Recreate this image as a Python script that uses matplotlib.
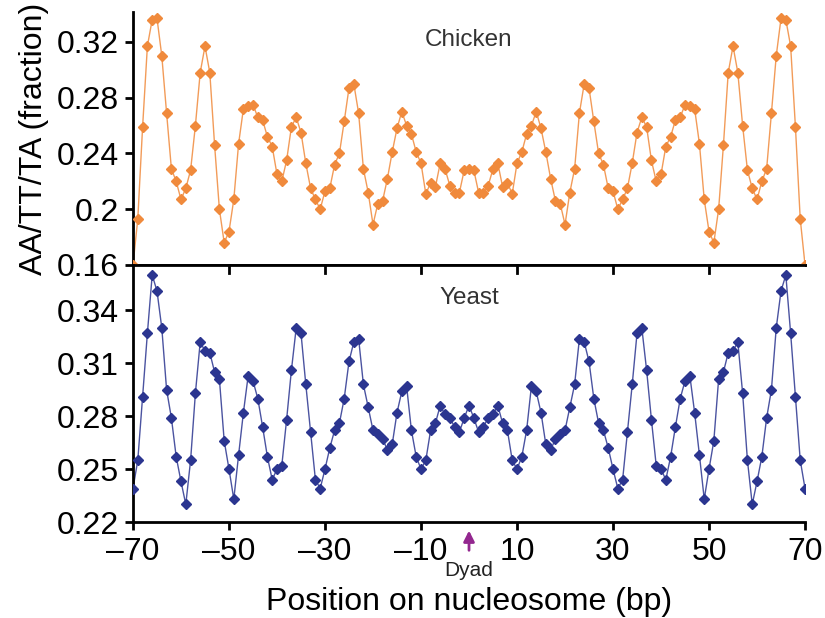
import numpy as np
import matplotlib
matplotlib.use("Agg")
import matplotlib.pyplot as plt

plt.rcParams["font.family"] = ["Liberation Sans", "DejaVu Sans"]

# position on nucleosome, -70..70 bp
positions = list(range(-70, 71))

chicken = [
    0.160, 0.193, 0.259, 0.317, 0.336, 0.337, 0.310, 0.269, 0.229, 0.220,
    0.207, 0.215, 0.228, 0.260, 0.298, 0.317, 0.298, 0.246, 0.200, 0.176,
    0.184, 0.207, 0.247, 0.272, 0.274, 0.275, 0.266, 0.264, 0.252, 0.245,
    0.225, 0.220, 0.235, 0.259, 0.266, 0.255, 0.233, 0.215, 0.207, 0.200,
    0.213, 0.215, 0.232, 0.240, 0.263, 0.287, 0.290, 0.269, 0.229, 0.212,
    0.189, 0.204, 0.206, 0.222, 0.241, 0.258, 0.270, 0.260, 0.254, 0.241,
    0.233, 0.211, 0.219, 0.216, 0.233, 0.229, 0.217, 0.212, 0.212, 0.228,
    0.229,
    0.228, 0.212, 0.212, 0.217, 0.229, 0.233, 0.216, 0.219, 0.211, 0.233,
    0.241, 0.254, 0.260, 0.270, 0.258, 0.241, 0.222, 0.206, 0.204, 0.189,
    0.212, 0.229, 0.269, 0.290, 0.287, 0.263, 0.240, 0.232, 0.215, 0.213,
    0.200, 0.207, 0.215, 0.233, 0.255, 0.266, 0.259, 0.235, 0.220, 0.225,
    0.245, 0.252, 0.264, 0.266, 0.275, 0.274, 0.272, 0.247, 0.207, 0.184,
    0.176, 0.200, 0.246, 0.298, 0.317, 0.298, 0.260, 0.228, 0.215, 0.207,
    0.220, 0.229, 0.269, 0.310, 0.337, 0.336, 0.317, 0.259, 0.193, 0.160,
]

yeast = [
    0.239, 0.255, 0.291, 0.327, 0.360, 0.351, 0.330, 0.295, 0.279, 0.257,
    0.243, 0.230, 0.255, 0.293, 0.322, 0.317, 0.316, 0.305, 0.301, 0.266,
    0.250, 0.233, 0.258, 0.282, 0.303, 0.300, 0.290, 0.274, 0.257, 0.244,
    0.250, 0.252, 0.278, 0.306, 0.330, 0.327, 0.298, 0.271, 0.244, 0.239,
    0.250, 0.262, 0.272, 0.276, 0.290, 0.311, 0.322, 0.324, 0.298, 0.285,
    0.272, 0.270, 0.267, 0.261, 0.264, 0.282, 0.294, 0.297, 0.272, 0.257,
    0.250, 0.255, 0.272, 0.276, 0.286, 0.281, 0.279, 0.274, 0.271, 0.279,
    0.286,
    0.279, 0.271, 0.274, 0.279, 0.281, 0.286, 0.276, 0.272, 0.255, 0.250,
    0.257, 0.272, 0.297, 0.294, 0.282, 0.264, 0.261, 0.267, 0.270, 0.272,
    0.285, 0.298, 0.324, 0.322, 0.311, 0.290, 0.276, 0.272, 0.262, 0.250,
    0.239, 0.244, 0.271, 0.298, 0.327, 0.330, 0.306, 0.278, 0.252, 0.250,
    0.244, 0.257, 0.274, 0.290, 0.300, 0.303, 0.282, 0.258, 0.233, 0.250,
    0.266, 0.301, 0.305, 0.316, 0.317, 0.322, 0.293, 0.255, 0.230, 0.243,
    0.257, 0.279, 0.295, 0.330, 0.351, 0.360, 0.327, 0.291, 0.255, 0.239,
]

chicken_ticks = [0.16, 0.2, 0.24, 0.28, 0.32]
chicken_ticklabels = ["0.16", "0.2", "0.24", "0.28", "0.32"]
yeast_ticks = [0.22, 0.25, 0.28, 0.31, 0.34]
x_ticks = [-70, -50, -30, -10, 10, 30, 50, 70]

orange = "#f08a3c"
blue = "#2b3590"
purple = "#93278f"

fig = plt.figure(figsize=(8.25, 6.18), dpi=100)
ax_top = fig.add_axes([0.1612, 0.5712, 0.8146, 0.4094])
ax_bot = fig.add_axes([0.1612, 0.1553, 0.8146, 0.4159])

for ax, y, c in [(ax_top, chicken, orange), (ax_bot, yeast, blue)]:
    ax.plot(positions, y, color=c, lw=1.0, alpha=0.85, zorder=2)
    ax.plot(positions, y, ls="none", marker="D", ms=5.5, color=c,
            mec=c, zorder=3)
    ax.set_xlim(-70, 70)
    ax.spines["right"].set_visible(False)
    for s in ax.spines.values():
        s.set_linewidth(2)
    ax.tick_params(axis="y", direction="out", length=6, width=2,
                   labelsize=23, pad=4)

ax_top.set_ylim(0.16, 0.3415)
ax_top.set_yticks(chicken_ticks)
ax_top.set_yticklabels(chicken_ticklabels)
ax_top.spines["top"].set_visible(False)
ax_top.set_xticks(x_ticks)
ax_top.tick_params(axis="x", bottom=False, labelbottom=False)
ax_top.text(0, 0.3214, "Chicken", ha="center", va="center", fontsize=17.5,
            color="#333333")
ax_top.set_ylabel("AA/TT/TA (fraction)", fontsize=23, labelpad=6)

ax_bot.set_ylim(0.22, 0.3657)
ax_bot.set_yticks(yeast_ticks)
ax_bot.set_xticks(x_ticks)
ax_bot.set_xticklabels([str(t).replace("-", "\u2013") for t in x_ticks])
ax_bot.tick_params(axis="x", direction="out", length=6, width=2,
                   labelsize=23, pad=5)
ax_bot.text(0, 0.347, "Yeast", ha="center", va="center", fontsize=17.5,
            color="#333333")
ax_bot.set_xlabel("Position on nucleosome (bp)", fontsize=23, labelpad=14)

# inward ticks along the shared border
for t in x_ticks[1:-1]:
    ax_bot.plot([t, t], [0.3657, 0.3612], color="black", lw=2,
                clip_on=False, zorder=4)

# dyad marker
xt = ax_bot.get_xaxis_transform()
ax_bot.annotate("", xy=(0, -0.033), xytext=(0, -0.11),
                xycoords=xt, textcoords=xt,
                arrowprops=dict(arrowstyle="-|>", color=purple, lw=2,
                                mutation_scale=16, shrinkA=0, shrinkB=0))
ax_bot.text(0, -0.19, "Dyad", transform=xt,
            ha="center", va="center", fontsize=15, color="#222222")

fig.savefig("out.png", dpi=100)
